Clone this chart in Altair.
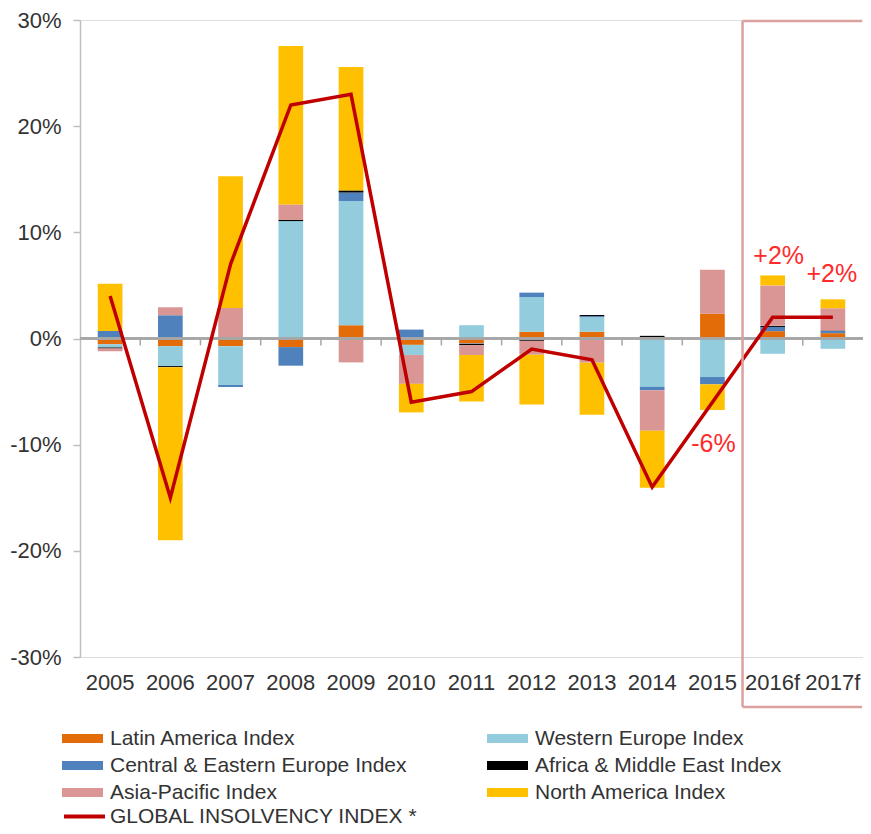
import altair as alt
import pandas as pd

years = ["2005", "2006", "2007", "2008", "2009", "2010", "2011", "2012",
         "2013", "2014", "2015", "2016f", "2017f"]

series = ["Latin America Index", "Western Europe Index",
          "Central & Eastern Europe Index", "Africa & Middle East Index",
          "Asia-Pacific Index", "North America Index"]
colors = ["#E36C09", "#93CDDD", "#4F81BD", "#000000", "#D99694", "#FFC000"]
# order in which the legend lists the series (two columns, filled top to bottom)
legend_order = ["Latin America Index", "Central & Eastern Europe Index",
                "Asia-Pacific Index", "Western Europe Index",
                "Africa & Middle East Index", "North America Index"]

latin_america = [-0.55, -0.72, -0.72, -0.81, 1.25, -0.60, -0.47, 0.63, 0.63, 0.10, 2.34, 0.69, 0.50]
western_europe = [-0.30, -1.88, -3.66, 11.06, 11.70, -0.95, 1.25, 3.28, 1.38, -4.56, -3.63, -1.44, -0.97]
central_eastern = [0.70, 2.19, -0.19, -1.75, 0.80, 0.84, -0.05, 0.41, 0.10, -0.31, -0.69, 0.40, 0.20]
africa_me = [-0.10, -0.10, 0.00, 0.10, 0.20, 0.00, -0.10, -0.22, 0.10, 0.15, 0.00, 0.10, 0.05]
asia_pacific = [-0.25, 0.75, 2.88, 1.47, -2.25, -2.72, -0.94, -1.31, -2.28, -3.81, 4.13, 3.81, 2.10]
north_america = [4.46, -16.30, 12.40, 14.93, 11.63, -2.69, -4.38, -4.69, -4.90, -5.37, -2.41, 0.94, 0.84]

global_index = [4, -15, 7, 22, 23, -6, -5, -1, -2, -14, -6, 2, 2]
global_name = "GLOBAL INSOLVENCY INDEX *"

ann_years = ["2015", "2016f", "2017f"]
ann_texts = ["-6%", "+2%", "+2%"]
forecast_start = "2016f"

# ---- tables built from the arrays ----
cols = [latin_america, western_europe, central_eastern, africa_me, asia_pacific, north_america]
rows = []
for si, (name, vals) in enumerate(zip(series, cols)):
    for y, v in zip(years, vals):
        rows.append({"year": y, "series": name, "value": v, "order": si})
bars_df = pd.DataFrame(rows)

color_of = dict(zip(series, colors))
legend_colors = [color_of[s] for s in legend_order]

line_df = pd.DataFrame({"year": years, "global": global_index,
                        "series": [global_name] * len(years)})
ann_df = pd.DataFrame({"year": ann_years, "text": ann_texts,
                       "global": [global_index[years.index(y)] for y in ann_years]})
tick_df = pd.DataFrame({"year": years[1:]})
one_df = pd.DataFrame({"k": [0]})

FONT = "Liberation Sans"

xscale = alt.Scale(domain=years, paddingInner=0, paddingOuter=0)
xaxis = alt.Axis(title=None, domain=False, ticks=False, labelAngle=0,
                 labelFontSize=22, labelColor="#333333", labelPadding=15,
                 labelFont=FONT)
yscale = alt.Scale(domain=[-30, 30], nice=False, zero=False)
yaxis = alt.Axis(title=None, values=[-30, -20, -10, 0, 10, 20, 30],
                 labelExpr="datum.value + '%'", grid=False,
                 domainColor="#BFBFBF", domainWidth=1.5, tickColor="#BFBFBF",
                 tickWidth=1.5, tickSize=7, labelFontSize=22,
                 labelColor="#333333", labelPadding=12, labelFont=FONT)

X = alt.X("year:N", scale=xscale, axis=xaxis)

bars = alt.Chart(bars_df).mark_bar(width=alt.RelativeBandSize(0.41)).encode(
    x=X,
    y=alt.Y("value:Q", stack="zero", scale=yscale, axis=yaxis),
    color=alt.Color("series:N", scale=alt.Scale(domain=legend_order, range=legend_colors),
                    legend=alt.Legend(title=None, orient="none", legendX=-18, legendY=708,
                                      columns=2, columnPadding=80, rowPadding=5,
                                      symbolType="M-1,-0.22L1,-0.22L1,0.22L-1,0.22Z",
                                      symbolSize=1681, symbolStrokeWidth=0,
                                      labelFontSize=21, labelColor="#333333",
                                      labelFont=FONT, labelOffset=7, clipHeight=21,
                                      padding=0, labelLimit=400)),
    order=alt.Order("order:Q", sort="ascending"),
)

zero_rule = alt.Chart(line_df).mark_rule(color="#A6A6A6", strokeWidth=1.5).encode(
    y=alt.YDatum(0, scale=yscale, axis=yaxis)
)

tick_rules = alt.Chart(tick_df).mark_rule(color="#A6A6A6", strokeWidth=1.5).encode(
    x=alt.X("year:N", scale=xscale, axis=xaxis, bandPosition=0),
    y=alt.YDatum(0, scale=yscale, axis=yaxis),
    y2=alt.Y2Datum(-0.65),
)

line = alt.Chart(line_df).mark_line(strokeWidth=3.5, strokeJoin="miter").encode(
    x=X,
    y=alt.Y("global:Q", scale=yscale, axis=yaxis),
    stroke=alt.Stroke("series:N", scale=alt.Scale(domain=[global_name], range=["#C00000"]),
                      legend=alt.Legend(title=None, orient="none", legendX=-18, legendY=786,
                                        symbolType="stroke", symbolSize=1681,
                                        symbolStrokeWidth=4, labelFontSize=21,
                                        labelColor="#333333", labelFont=FONT,
                                        labelOffset=3, clipHeight=21, padding=0,
                                        labelLimit=400)),
)

offsets = {"2015": (1, 42), "2016f": (6, -61), "2017f": (-1, -43)}
texts = []
for y in ann_years:
    dx, dy = offsets[y]
    texts.append(
        alt.Chart(ann_df).transform_filter(alt.datum.year == y)
        .mark_text(fontSize=25, color="#FF2A2A", font=FONT, dx=dx, dy=dy)
        .encode(x=X, y=alt.Y("global:Q", scale=yscale, axis=yaxis), text="text:N")
    )

# forecast frame (open on the right, as in the cropped original)
FX = alt.XDatum(forecast_start, type="nominal", scale=xscale, axis=xaxis, bandPosition=0)
frame_style = dict(color="#DDA0A0", strokeWidth=2.5)
frame_left = alt.Chart(one_df).mark_rule(**frame_style).encode(
    x=FX, y=alt.value(1), y2=alt.value(687))
frame_top = alt.Chart(one_df).mark_rule(**frame_style).encode(
    x=FX, x2=alt.value(782), y=alt.value(1))
frame_bottom = alt.Chart(one_df).mark_rule(**frame_style).encode(
    x=FX, x2=alt.value(782), y=alt.value(687))

chart = alt.layer(bars, zero_rule, tick_rules, line, *texts,
                  frame_left, frame_top, frame_bottom).properties(
    width=783, height=637,
    padding={"left": 72, "top": 12, "right": 0, "bottom": 169},
    autosize=alt.AutoSizeParams(type="none"),
).configure_view(stroke=None).configure(font=FONT)

chart.save("out.html", embed_options={"renderer": "svg", "actions": False})
